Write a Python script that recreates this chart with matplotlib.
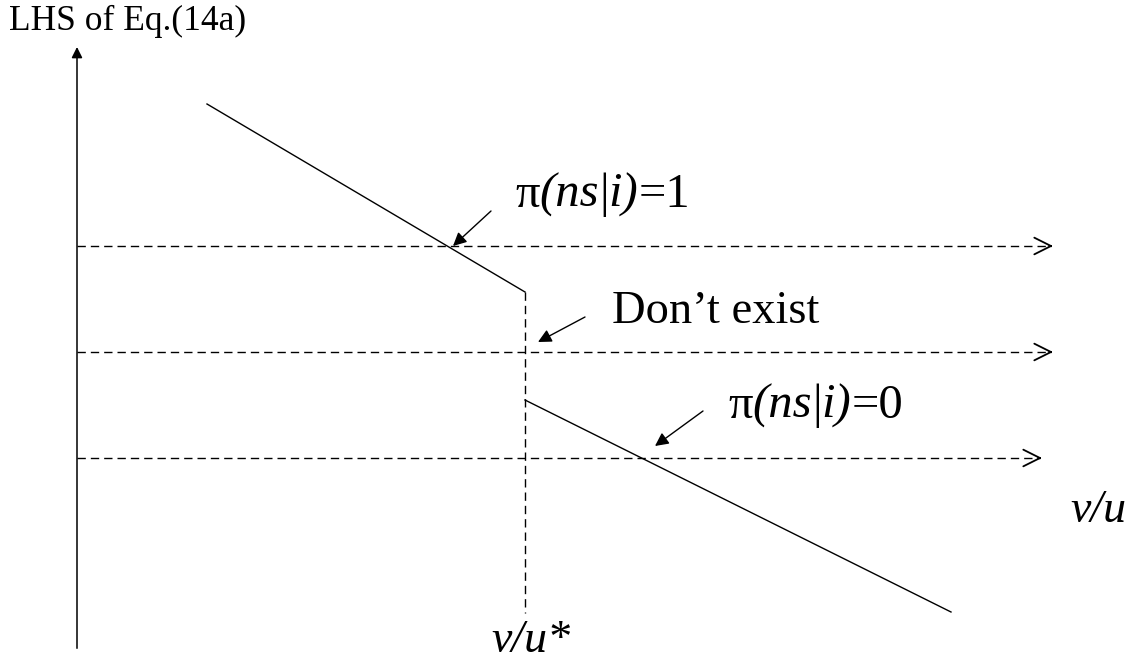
import matplotlib
matplotlib.use('Agg')
import matplotlib.pyplot as plt

# schematic coordinates (x to the right, y downward like the drawing)
axis_x = 77
axis_y = [648, 47]

upper_x = [207, 525]
upper_y = [104, 292]
lower_x = [525, 951]
lower_y = [400, 612]

vu_star = 525
vu_star_y = [292, 613]

level_y = [246, 352, 458]
level_end = [1053, 1053, 1042]

# annotation arrows: (tail, tip)
pointers = [((491, 211), (453, 246)),
            ((585, 317), (538, 342)),
            ((703, 411), (655, 446))]

plt.rcParams['font.family'] = 'Liberation Serif'

fig = plt.figure(figsize=(11.38, 6.62), dpi=100)
ax = fig.add_axes([0, 0, 1, 1])
ax.set_xlim(0, 1138)
ax.set_ylim(662, 0)
ax.axis('off')
renderer = fig.canvas.get_renderer()


def rich_text(x, y, parts, size):
    # write pieces one after another, each with its own style
    for s, style in parts:
        t = ax.text(x, y, s, fontsize=size, style=style, ha='left', va='baseline')
        bb = t.get_window_extent(renderer=renderer)
        x = ax.transData.inverted().transform((bb.x1, bb.y0))[0]


dash = (0, (6, 3.6))

# vertical axis with filled head
ax.plot([axis_x, axis_x], [axis_y[0], axis_y[1] + 8], color='k', lw=1.1)
ax.annotate('', xy=(axis_x, axis_y[1]), xytext=(axis_x, axis_y[1] + 9),
            arrowprops=dict(arrowstyle='-|>', color='k', lw=1.1,
                            mutation_scale=16, shrinkA=0, shrinkB=0))

# horizontal dashed levels with open heads
for y, xe in zip(level_y, level_end):
    ax.plot([axis_x, xe - 2], [y, y], color='k', lw=1.0, linestyle=dash)
    ax.annotate('', xy=(xe, y), xytext=(xe - 4, y),
                arrowprops=dict(arrowstyle='->', color='k', lw=1.3,
                                mutation_scale=30, shrinkA=0, shrinkB=0))

# LHS curve
ax.plot(upper_x, upper_y, color='k', lw=1.0)
ax.plot(lower_x, lower_y, color='k', lw=1.0)
ax.plot([vu_star, vu_star], vu_star_y, color='k', lw=1.0, linestyle=dash)

for tail, tip in pointers:
    ax.annotate('', xy=tip, xytext=tail,
                arrowprops=dict(arrowstyle='-|>', color='k', lw=1.0,
                                mutation_scale=20, shrinkA=0, shrinkB=0))

ax.text(9, 21, 'LHS of Eq.(14a)', fontsize=25.5, ha='left', va='center')
rich_text(515, 207, [('π', 'normal'), ('(ns', 'italic'), ('|', 'normal'),
                     ('i)', 'italic'), ('=1', 'normal')], 35)
ax.text(612, 323, 'Don’t exist', fontsize=33.5, ha='left', va='baseline')
rich_text(728, 418, [('π', 'normal'), ('(ns', 'italic'), ('|', 'normal'),
                     ('i)', 'italic'), ('=0', 'normal')], 35)
ax.text(1070, 522, 'v/u', fontsize=33, style='italic', ha='left', va='baseline')
ax.text(491, 652, 'v/u*', fontsize=33, style='italic', ha='left', va='baseline')

fig.savefig('out.png', dpi=100)
